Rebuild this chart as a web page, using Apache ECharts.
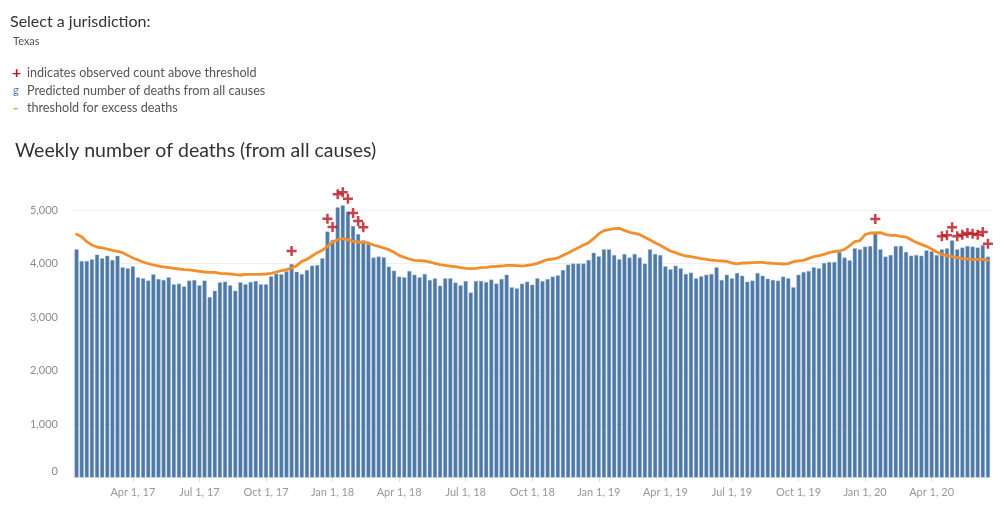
<!DOCTYPE html>
<html>
<head>
<meta charset="utf-8">
<script src="https://cdn.jsdelivr.net/npm/echarts@6/dist/echarts.min.js"></script>
<style>
html, body { margin: 0; padding: 0; background: #fff; }
#chart { width: 1000px; height: 515px; }
</style>
</head>
<body>
<div id="chart"></div>
<script>
// first week-ending date, one bar per week after it
const firstWeekEnding = '2017-01-14'

// observed weekly deaths, Texas
const deaths = [
  4265, 4047, 4047, 4078, 4165, 4097, 4146, 4065, 4146, 3928,
  3910, 3947, 3741, 3723, 3679, 3798, 3710, 3692, 3741, 3611,
  3623, 3573, 3679, 3692, 3592, 3679, 3374, 3492, 3648, 3660,
  3592, 3492, 3648, 3611, 3654, 3673, 3611, 3611, 3760, 3810,
  3797, 3853, 3991, 3847, 3804, 3878, 3959, 3972, 4097, 4595,
  4440, 5050, 5088, 4969, 4701, 4551, 4433, 4364, 4109, 4128,
  4115, 3941, 3866, 3754, 3741, 3860, 3791, 3741, 3804, 3692,
  3723, 3586, 3723, 3723, 3642, 3592, 3673, 3455, 3673, 3673,
  3654, 3698, 3623, 3710, 3791, 3555, 3536, 3623, 3660, 3604,
  3723, 3673, 3710, 3754, 3779, 3878, 3978, 3997, 3997, 3997,
  4065, 4202, 4134, 4265, 4265, 4159, 4078, 4178, 4109, 4178,
  4109, 3997, 4265, 4178, 4159, 3947, 3891, 3959, 3910, 3804,
  3829, 3723, 3760, 3791, 3804, 3928, 3692, 3791, 3723, 3822,
  3772, 3660, 3679, 3822, 3772, 3716, 3692, 3679, 3754, 3723,
  3555, 3791, 3841, 3860, 3928, 3910, 4009, 4028, 4028, 4215,
  4109, 4059, 4284, 4265, 4315, 4327, 4590, 4265, 4128, 4159,
  4327, 4327, 4215, 4146, 4159, 4146, 4246, 4227, 4159, 4265,
  4284, 4433, 4265, 4296, 4327, 4315, 4296, 4346, 4128
]

// threshold for excess deaths
const threshold = [
  4548, 4501, 4408, 4346, 4308, 4290, 4271, 4246, 4227, 4202,
  4152, 4103, 4065, 4028, 3997, 3972, 3953, 3935, 3922, 3910,
  3897, 3885, 3879, 3866, 3853, 3841, 3835, 3835, 3816, 3810,
  3804, 3791, 3785, 3798, 3798, 3798, 3798, 3804, 3816, 3841,
  3865, 3885, 3915, 3960, 4040, 4078, 4140, 4202, 4246, 4320,
  4400, 4445, 4464, 4445, 4414, 4402, 4395, 4383, 4346, 4321,
  4290, 4259, 4209, 4152, 4115, 4084, 4059, 4053, 4047, 4028,
  4003, 3978, 3966, 3953, 3941, 3922, 3910, 3903, 3910, 3922,
  3928, 3941, 3947, 3953, 3966, 3966, 3959, 3953, 3966, 3978,
  4003, 4040, 4072, 4084, 4103, 4152, 4196, 4246, 4296, 4346,
  4389, 4464, 4558, 4614, 4632, 4651, 4657, 4620, 4583, 4564,
  4539, 4489, 4439, 4389, 4340, 4284, 4234, 4202, 4165, 4140,
  4128, 4109, 4090, 4078, 4065, 4053, 4047, 4040, 4009, 3991,
  4009, 4009, 4016, 4022, 4022, 4009, 4003, 3997, 3991, 3997,
  4034, 4047, 4059, 4096, 4128, 4146, 4171, 4202, 4227, 4234,
  4265, 4333, 4408, 4427, 4539, 4570, 4570, 4576, 4545, 4527,
  4527, 4508, 4495, 4445, 4395, 4358, 4321, 4271, 4215, 4171,
  4146, 4128, 4109, 4090, 4084, 4072, 4078, 4078, 4059
]

// weeks (0-based) where observed count is above threshold
const aboveThreshold = [42, 49, 50, 51, 52, 53, 54, 55, 56, 156,
  169, 170, 171, 172, 173, 174, 175, 176, 177, 178]

const tickDates = ['2017-04-01', '2017-07-01', '2017-10-01', '2018-01-01', '2018-04-01',
  '2018-07-01', '2018-10-01', '2019-01-01', '2019-04-01', '2019-07-01', '2019-10-01',
  '2020-01-01', '2020-04-01']
const tickLabels = ['Apr 1, 17', 'Jul 1, 17', 'Oct 1, 17', 'Jan 1, 18', 'Apr 1, 18',
  'Jul 1, 18', 'Oct 1, 18', 'Jan 1, 19', 'Apr 1, 19', 'Jul 1, 19', 'Oct 1, 19',
  'Jan 1, 20', 'Apr 1, 20']

const DAY = 86400000
const start = Date.parse(firstWeekEnding)
const weeks = deaths.map((d, i) => new Date(start + i * 7 * DAY).toISOString().slice(0, 10))

// which bar each quarter label sits on
const tickAt = {}
tickDates.forEach((d, k) => {
  const idx = Math.floor((Date.parse(d) - start) / DAY / 7)
  tickAt[idx] = tickLabels[k]
})
const isTick = (index) => tickAt[index] !== undefined

const font = 'Lato, "Open Sans", sans-serif'
const red = '#b8141e'
const chart = echarts.init(document.getElementById('chart'))

const option = {
  backgroundColor: '#fff',
  animation: false,
  textStyle: { fontFamily: font },
  grid: { left: 74, right: 9.5, top: 210, bottom: 37.5 },
  graphic: [
    { type: 'text', x: 10, y: 22, style: { text: 'Select a jurisdiction:', fill: '#333', font: '16px ' + font, verticalAlign: 'middle' } },
    { type: 'text', x: 13, y: 41, style: { text: 'Texas', fill: '#555', font: '11px ' + font, verticalAlign: 'middle' } },
    { type: 'text', x: 12, y: 73, style: { text: '+', fill: red, font: 'bold 16px ' + font, verticalAlign: 'middle' } },
    { type: 'text', x: 27, y: 73, style: { text: 'indicates observed count above threshold', fill: '#555', font: '12.6px ' + font, verticalAlign: 'middle' } },
    { type: 'text', x: 13, y: 90, style: { text: 'g', fill: '#4e79a7', font: '11px ' + font, verticalAlign: 'middle' } },
    { type: 'text', x: 27, y: 91, style: { text: 'Predicted number of deaths from all causes', fill: '#555', font: '12.6px ' + font, verticalAlign: 'middle' } },
    { type: 'text', x: 13, y: 108, style: { text: '-', fill: '#f28e2b', font: 'bold 14px ' + font, verticalAlign: 'middle' } },
    { type: 'text', x: 27, y: 108, style: { text: 'threshold for excess deaths', fill: '#555', font: '12.6px ' + font, verticalAlign: 'middle' } },
    { type: 'text', x: 15, y: 151, style: { text: 'Weekly number of deaths (from all causes)', fill: '#333', font: '19.5px ' + font, verticalAlign: 'middle' } }
  ],
  xAxis: {
    type: 'category',
    data: weeks,
    boundaryGap: true,
    axisLine: { show: false },
    axisTick: { show: true, alignWithLabel: true, interval: isTick, length: 4, lineStyle: { color: '#ddd' } },
    axisLabel: {
      interval: isTick,
      formatter: (v, i) => tickAt[i] || '',
      color: '#999',
      fontSize: 11,
      margin: 9
    },
    splitLine: { show: false }
  },
  yAxis: {
    type: 'value',
    min: 0,
    max: 5000,
    interval: 1000,
    axisLine: { show: false },
    axisTick: { show: false },
    axisLabel: {
      color: '#8c8c8c',
      fontSize: 11,
      margin: 16,
      formatter: (v) => (v === 0 ? '{z|0}' : v.toLocaleString('en-US')),
      rich: { z: { color: '#8c8c8c', fontSize: 11, padding: [0, 0, 13, 0] } }
    },
    splitLine: { lineStyle: { color: '#eeeeee', width: 1 } }
  },
  series: [
    {
      name: 'Predicted number of deaths from all causes',
      type: 'bar',
      data: deaths,
      barWidth: '80%',
      clip: false,
      itemStyle: { color: '#4e79a7', borderColor: '#a9bfd6', borderWidth: 0.4 },
      z: 2
    },
    {
      name: 'threshold for excess deaths',
      type: 'line',
      data: threshold,
      showSymbol: false,
      clip: false,
      lineStyle: { color: '#f28e2b', width: 2.8, cap: 'round', join: 'round' },
      z: 3
    },
    {
      name: 'above threshold',
      type: 'scatter',
      data: aboveThreshold.map((i) => [i, deaths[i]]),
      symbol: 'path://M3,0H5V3H8V5H5V8H3V5H0V3H3Z',
      symbolSize: 10,
      symbolOffset: [0, -13],
      clip: false,
      itemStyle: { color: red },
      z: 4
    }
  ]
}
chart.setOption(option)
</script>
</body>
</html>
